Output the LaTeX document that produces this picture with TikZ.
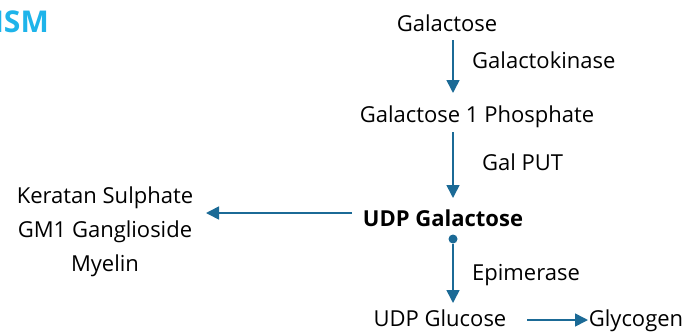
\documentclass[tikz,border=0pt]{standalone}
\usepackage{fontspec}
\setmainfont{Open Sans}
\usepackage{xcolor}
\usetikzlibrary{arrows.meta,positioning}
\definecolor{flowblue}{HTML}{1B6A96}
\definecolor{titlecyan}{HTML}{1EB4EA}

\begin{document}
\begin{tikzpicture}[
  x=1pt,
  y=-1pt,
  every node/.style={font=\fontsize{22}{34}\selectfont, inner sep=0pt},
  sugar/.style={anchor=base},
  enzyme/.style={anchor=base west},
  hub/.style={anchor=base, font=\fontsize{22}{34}\selectfont\bfseries},
  heading/.style={anchor=base east, font=\fontsize{30}{36}\selectfont\bfseries, text=titlecyan},
  junction/.style={circle, fill=flowblue, minimum size=9pt, inner sep=0pt},
  flow/.style={-{Triangle[length=13pt,width=13pt]}, color=flowblue, line width=1.6pt}
]
\useasboundingbox (0,0) rectangle (688,335);
\node[heading] (title) at (49,32) {ISM};
\coordinate (axis) at (453,0);
\node[sugar] (gal) at (447,31) {Galactose};
\node[enzyme] (kinase) at (472,68) {Galactokinase};
\node[sugar] (g1p) at (477,122) {Galactose 1 Phosphate};
\node[enzyme] (galput) at (482,170) {Gal PUT};
\node[hub] (udpgal) at (443,226) {UDP Galactose};
\node[anchor=north, align=center] (products) at (105,187) {Keratan Sulphate\\GM1 Ganglioside\\Myelin};
\node[junction] (dot) at (453,239) {};
\node[enzyme] (epi) at (472,280) {Epimerase};
\node[sugar] (udpglc) at (440,326) {UDP Glucose};
\node[sugar] (glycogen) at (636,326) {Glycogen};
\draw[flow] (axis |- 0,40) -- (axis |- 0,93);
\draw[flow] (axis |- 0,132) -- (axis |- 0,198);
\draw[flow] (dot) -- (axis |- 0,303);
\draw[flow] (352,213) -- (206,213);
\draw[flow] (527,320) -- (588,320);
\end{tikzpicture}
\end{document}
